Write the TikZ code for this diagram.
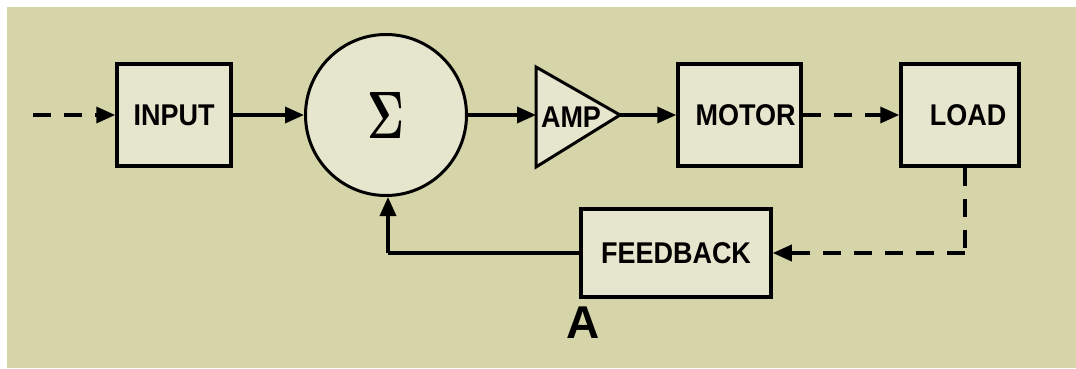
\documentclass[tikz,border=0pt]{standalone}
\usepackage{fontspec}
\usepackage{graphicx}
\newfontfamily\lblfont{Liberation Sans}[FakeStretch=0.9]
\newfontfamily\afont{Liberation Sans}
\usetikzlibrary{arrows.meta}
\definecolor{bg}{RGB}{213,213,169}
\definecolor{boxfill}{RGB}{230,230,206}
\begin{document}
\begin{tikzpicture}[x=1pt,y=-1pt,
  block/.style={draw=black, fill=boxfill, line width=3.5pt, inner sep=0pt,
    font=\lblfont\bfseries\fontsize{30}{30}\selectfont},
  lbl/.style={inner sep=0pt, font=\lblfont\bfseries\fontsize{30}{30}\selectfont},
  conn/.style={line width=3.5pt, -{Triangle[length=19pt,width=16pt]}},
  dashconn/.style={conn, dash pattern=on 18pt off 13pt},
  plain/.style={line width=3.5pt},
  plaindash/.style={line width=3.5pt, dash pattern=on 18pt off 13pt}
]
\useasboundingbox (0,0) rectangle (1076,368);
\fill[white] (0,0) rectangle (1076,368);
\fill[bg] (7,7) rectangle (1076,368);

% blocks
\node[block, minimum width=114pt, minimum height=102pt] (input) at (174,115) {INPUT};
\node[circle, draw=black, fill=boxfill, line width=3pt, minimum size=161pt, inner sep=0pt] (sum) at (386,115) {\resizebox{37pt}{46pt}{\boldmath$\Sigma$}};
\draw[line width=3pt, fill=boxfill, line join=miter] (536,67) -- (620,115) -- (536,167) -- cycle;
\coordinate (ampin) at (536,115);
\coordinate (ampout) at (620,115);
\node[lbl] (amp) at (571,117) {AMP};
\node[block, minimum width=123pt, minimum height=102pt] (motor) at (739.5,115) {\hspace*{12pt}MOTOR};
\node[block, minimum width=118pt, minimum height=102pt] (load) at (960,115) {\hspace*{16pt}LOAD};
\node[block, minimum width=190pt, minimum height=88pt] (feedback) at (676,253) {FEEDBACK};
\node[inner sep=0pt, font=\afont\bfseries\fontsize{46}{46}\selectfont] (alabel) at (583,323) {A};

% connectors
\coordinate (start) at (33,115);
\draw[dashconn] (start) -- (input.west);
\draw[conn] (input.east) -- (sum.west);
\draw[conn] (sum.east) -- (ampin);
\draw[conn] (ampout) -- (motor.west);
\draw[dashconn] (motor.east) -- (load.west);
\coordinate (corner) at (965,253);
\draw[plaindash] (load.south -| corner) -- (corner);
\draw[dashconn] (corner) -- (feedback.east);
\coordinate (ret) at (388,253);
\draw[plain] (feedback.west) -- (ret);
\draw[conn] (ret) -- (sum.south -| ret);
\end{tikzpicture}
\end{document}
